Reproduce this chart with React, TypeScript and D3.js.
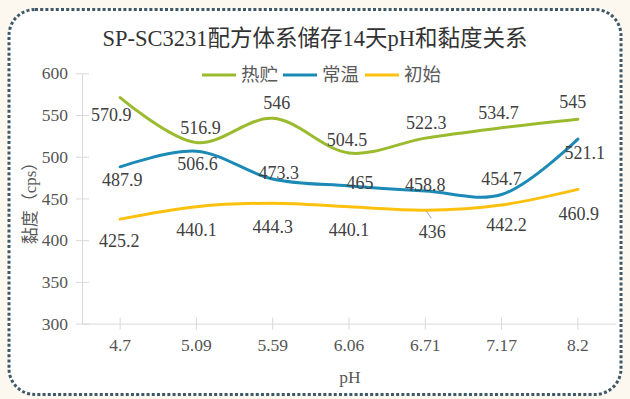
import React, { useRef, useEffect } from 'react';
import * as d3 from 'd3';

const categories: string[] = ['4.7', '5.09', '5.59', '6.06', '6.71', '7.17', '8.2'];
const hotStorage: number[] = [570.9, 516.9, 546, 504.5, 522.3, 534.7, 545];
const roomTemp: number[] = [487.9, 506.6, 473.3, 465, 458.8, 454.7, 521.1];
const initial: number[] = [425.2, 440.1, 444.3, 440.1, 436, 442.2, 460.9];
const seriesNames: string[] = ['热贮', '常温', '初始'];
const yTicks: number[] = [300, 350, 400, 450, 500, 550, 600];

// label nudges (px) per series, per point
const labelOffsets: [number, number][][] = [
  [[-9, 17], [4, -15], [4, -16], [-2, -13], [1, -15], [-3, -15], [-5, -17]],
  [[2, 13], [1, 12], [6, -6], [11, -3], [0, -6], [0, -16], [7, 14]],
  [[-1, 22], [0, 23], [0, 23], [0, 23], [7, 22], [5, 20], [1, 24]],
];

const W = 630;
const H = 399;
const colors = ['#9bbb2f', '#1b8ab6', '#fcc00e'];

const App: React.FC = () => {
  const svgRef = useRef<SVGSVGElement | null>(null);

  useEffect(() => {
    const svg = d3.select(svgRef.current!);
    svg.selectAll('*').remove();

    const font = '"Liberation Serif", "Times New Roman", serif';
    const cjk = '"Liberation Serif", "Noto Sans CJK SC", serif';

    svg.append('rect').attr('width', W).attr('height', H).attr('fill', '#fcf8ef');
    svg.append('rect')
      .attr('x', 9).attr('y', 9.5)
      .attr('width', 612).attr('height', 385)
      .attr('rx', 26).attr('ry', 26)
      .attr('fill', '#ffffff')
      .attr('stroke', '#3e5868')
      .attr('stroke-width', 3)
      .attr('stroke-dasharray', '3 2.2');

    const x = d3.scaleBand().domain(categories).range([82, 616]);
    const y = d3.scaleLinear().domain([300, 600]).range([323.6, 73.3]);

    // title
    svg.append('text')
      .attr('x', 315).attr('y', 46)
      .attr('text-anchor', 'middle')
      .attr('font-family', cjk)
      .attr('font-size', 22.5)
      .attr('fill', '#333')
      .text('SP-SC3231配方体系储存14天pH和黏度关系');

    // y axis
    const yAxis = svg.append('g')
      .attr('transform', 'translate(82,0)')
      .call(d3.axisLeft(y).tickValues(yTicks).tickSize(0).tickPadding(14).tickFormat(d3.format('d')));
    yAxis.select('.domain').attr('stroke', '#d9d9d9');
    yAxis.selectAll('.tick line').attr('x1', -6).attr('x2', 7).attr('stroke', '#d9d9d9');
    yAxis.selectAll('text')
      .attr('font-family', font).attr('font-size', 17.5).attr('fill', '#555');

    // x axis
    const xAxis = svg.append('g')
      .attr('transform', 'translate(0,323.6)')
      .call(d3.axisBottom(x).tickSize(0).tickPadding(15).tickSizeOuter(0));
    xAxis.select('.domain').attr('stroke', '#d9d9d9');
    xAxis.selectAll('.tick line').attr('y1', -6).attr('y2', 6).attr('stroke', '#d9d9d9');
    xAxis.selectAll('text')
      .attr('font-family', font).attr('font-size', 17.5).attr('fill', '#555');

    // axis titles
    svg.append('text')
      .attr('x', 350).attr('y', 383)
      .attr('text-anchor', 'middle')
      .attr('font-family', font).attr('font-size', 17.5).attr('fill', '#595959')
      .text('pH');
    svg.append('text')
      .attr('transform', 'translate(36,199) rotate(-90)')
      .attr('text-anchor', 'middle')
      .attr('font-family', cjk).attr('font-size', 17).attr('fill', '#595959')
      .text('黏度（cps）');

    const allSeries = [hotStorage, roomTemp, initial];
    const line = d3.line<number>()
      .x((_, i) => x(categories[i])! + x.bandwidth() / 2)
      .y((d) => y(d))
      .curve(d3.curveCatmullRom.alpha(0.5));

    allSeries.forEach((s, si) => {
      svg.append('path')
        .datum(s)
        .attr('d', line)
        .attr('fill', 'none')
        .attr('stroke', colors[si])
        .attr('stroke-width', 3)
        .attr('stroke-linecap', 'round');
    });

    // leader line for 436
    const lx = x(categories[4])! + x.bandwidth() / 2;
    svg.append('line')
      .attr('x1', lx + 1).attr('y1', y(initial[4]) + 1)
      .attr('x2', lx + 6).attr('y2', y(initial[4]) + 8)
      .attr('stroke', '#a6a6a6').attr('stroke-width', 1);

    allSeries.forEach((s, si) => {
      svg.append('g')
        .selectAll('text')
        .data(s)
        .enter()
        .append('text')
        .attr('x', (_, i) => x(categories[i])! + x.bandwidth() / 2 + labelOffsets[si][i][0])
        .attr('y', (d, i) => y(d) + labelOffsets[si][i][1])
        .attr('dy', '0.35em')
        .attr('text-anchor', 'middle')
        .attr('font-family', font).attr('font-size', 18).attr('fill', '#404040')
        .text((d) => String(d));
    });

    // legend
    const legendX = [202, 283, 365];
    seriesNames.forEach((name, i) => {
      const g = svg.append('g').attr('transform', `translate(${legendX[i]},75)`);
      g.append('line')
        .attr('x1', 0).attr('x2', 34).attr('y1', 0).attr('y2', 0)
        .attr('stroke', colors[i]).attr('stroke-width', 3);
      g.append('text')
        .attr('x', 39).attr('y', 0).attr('dy', '0.35em')
        .attr('font-family', cjk).attr('font-size', 18.5).attr('fill', '#595959')
        .text(name);
    });
  }, []);

  return (
    <svg ref={svgRef} width={W} height={H} style={{ position: 'absolute', left: 0, top: 0 }}></svg>
  );
};

export default App;
